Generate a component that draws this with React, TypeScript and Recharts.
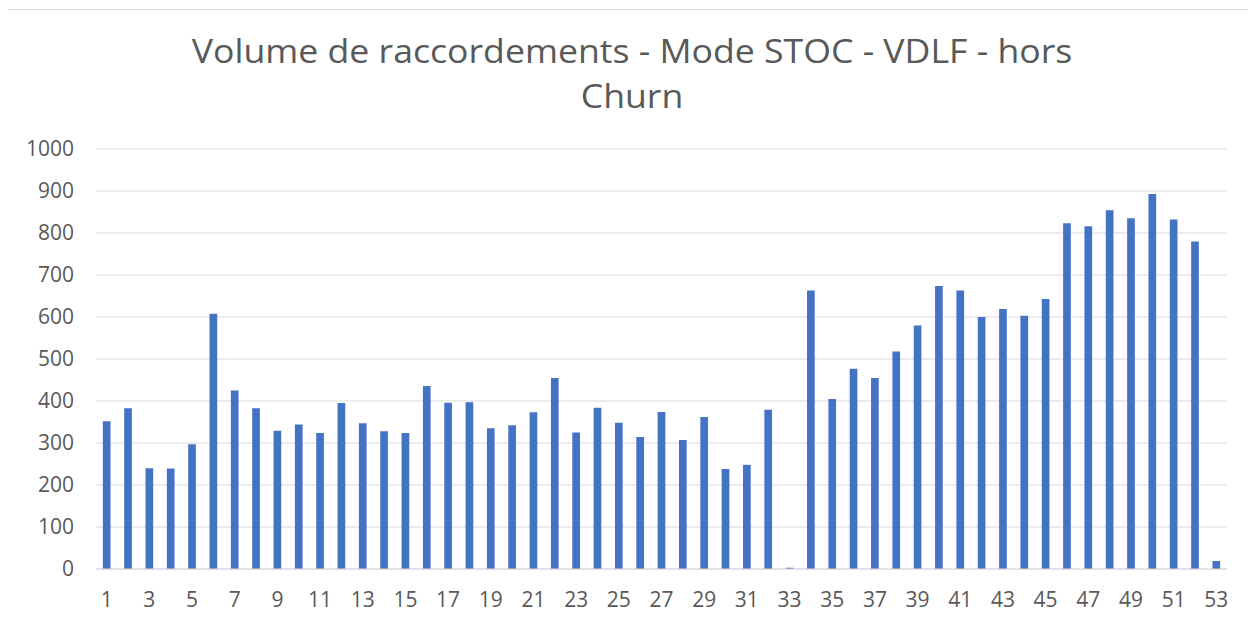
import { Bar, BarChart, CartesianGrid, XAxis, YAxis } from "recharts"

const weeks = [
  "1", "2", "3", "4", "5", "6", "7", "8", "9", "10",
  "11", "12", "13", "14", "15", "16", "17", "18", "19", "20",
  "21", "22", "23", "24", "25", "26", "27", "28", "29", "30",
  "31", "32", "33", "34", "35", "36", "37", "38", "39", "40",
  "41", "42", "43", "44", "45", "46", "47", "48", "49", "50",
  "51", "52", "53",
]

const volumes = [
  352, 383, 240, 239, 297, 608, 425, 383, 329, 344,
  324, 395, 347, 328, 324, 436, 396, 397, 335, 342,
  373, 455, 325, 384, 348, 314, 374, 307, 362, 238,
  248, 379, 3, 663, 405, 477, 455, 518, 580, 674,
  663, 600, 619, 603, 643, 823, 816, 854, 835, 893,
  832, 780, 19,
]

const yTicks = [0, 100, 200, 300, 400, 500, 600, 700, 800, 900, 1000]

const titleLines = ["Volume de raccordements - Mode STOC - VDLF - hors", "Churn"]

const data = weeks.map((week, i) => ({ week, volume: volumes[i] }))

const gray = "#595959"
const tickStyle = { fill: gray, fontSize: 21, fontFamily: "Open Sans" }

export default function App() {
  return (
    <div style={{ position: "relative", width: 1256, height: 622, margin: -8, overflow: "hidden", background: "#fff" }}>
      <div
        style={{
          position: "absolute",
          left: 6,
          top: 9,
          width: 1300,
          height: 700,
          borderLeft: "1px solid #d9d9d9",
          borderTop: "1px solid #d9d9d9",
        }}
      />
      {titleLines.map((line, i) => (
        <div
          key={line}
          style={{
            position: "absolute",
            left: 0,
            top: 34 + i * 45,
            width: 1264,
            textAlign: "center",
            color: gray,
            fontFamily: "Open Sans",
            fontSize: 33,
            lineHeight: "33px",
            transform: "scaleX(1.08)",
          }}
        >
          {line}
        </div>
      ))}
      <div style={{ position: "absolute", left: 0, top: 0 }}>
        <BarChart
          width={1256}
          height={622}
          data={data}
          margin={{ top: 149, right: 29, bottom: 0, left: 16 }}
          barCategoryGap="68%"
        >
          <CartesianGrid vertical={false} stroke="#d9d9d9" strokeWidth={1} />
          <XAxis
            dataKey="week"
            interval={1}
            tickLine={false}
            tickSize={0}
            tickMargin={23}
            axisLine={{ stroke: "#d9d9d9" }}
            tick={tickStyle}
            height={53}
          />
          <YAxis
            domain={[0, 1000]}
            ticks={yTicks}
            axisLine={false}
            tickLine={false}
            tickSize={0}
            tickMargin={22}
            tick={tickStyle}
            width={80}
          />
          <Bar dataKey="volume" fill="#4472c4" isAnimationActive={false} />
        </BarChart>
      </div>
    </div>
  )
}
